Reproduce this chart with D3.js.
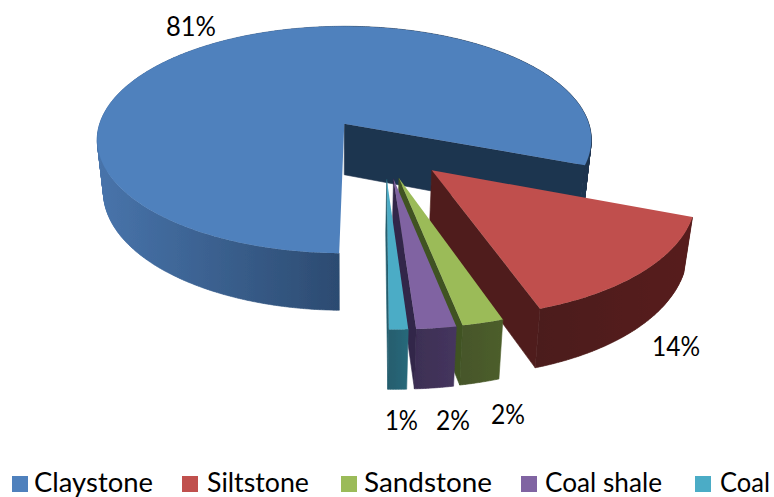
<!DOCTYPE html>
<html><head><meta charset="utf-8">
<script src="https://cdn.jsdelivr.net/npm/d3@7"></script>
<style>html,body{margin:0;padding:0;background:#fff}svg{display:block}text{font-family:Lato,"Open Sans",sans-serif;fill:#000}</style>
</head><body><div id="chart"></div>
<script>
const categories = ["Claystone","Siltstone","Sandstone","Coal shale","Coal"];
const shares = [80.5,14.2,2.2,2.1,1.0];
const topColors = ["#4F81BD","#C0504D","#9BBB59","#8064A2","#4BACC6"];
const cutColors = ["#1F344F","#4F1E1C","#3F5223","#33274A","#255E6E"];
const wallLight = ["#4874AB","#571F1D","#4D5E2A","#45355E","#28687A"];
const wallDark  = ["#2C4B71","#4C1D1B","#46562A","#3D2F54","#255E6E"];
const sliceNudge = [-0.012,0.007,-0.008,0.005,0.004];

const W=774,H=497;
const proj={cx:345,cy:122,rx:244,ry:110.7,k:0.1416,depth:51,depthSlope:6,shrink:0.975};
const explode=0.255, origin=[0.152,0.226];
const startClock=-179*Math.PI/180;

const svg=d3.select("#chart").append("svg").attr("width",W).attr("height",H);
const defs=svg.append("defs");
defs.append("filter").attr("id","soft").attr("x","-5%").attr("y","-5%").attr("width","110%").attr("height","110%")
  .append("feGaussianBlur").attr("stdDeviation",0.55);
const pie=d3.pie().sort(null).value(d=>d).startAngle(startClock).endAngle(startClock+2*Math.PI);
const slices=pie(shares);

function top3(u,v){const s=1/(1-proj.k*v);return [proj.cx+proj.rx*u*s,proj.cy+proj.ry*v*s];}
function bot3(u,v){const s=1/(1-proj.k*v);return [proj.cx+proj.rx*u*s*proj.shrink,proj.cy+proj.ry*v*s+proj.depth+proj.depthSlope*v];}
const dir=a=>[Math.sin(a),-Math.cos(a)];
const line=d3.line();
const chart=svg.append("g").attr("filter","url(#soft)");

slices.forEach((d,i)=>{
  const mid=(d.startAngle+d.endAngle)/2, m=dir(mid);
  const ax=origin[0]+explode*m[0]+sliceNudge[i], ay=origin[1]+explode*m[1];
  const steps=Math.max(6,Math.ceil((d.endAngle-d.startAngle)/0.01));
  const arc=d3.range(steps+1).map(t=>{const a=d.startAngle+(d.endAngle-d.startAngle)*t/steps,e=dir(a);return [ax+e[0],ay+e[1]];});
  const g=chart.append("g").attr("class","slice");
  const topRim=arc.map(p=>top3(p[0],p[1])), botRim=arc.map(p=>bot3(p[0],p[1]));
  const xs=topRim.map(p=>p[0]);
  const id="wall"+i;
  const grad=defs.append("linearGradient").attr("id",id).attr("gradientUnits","userSpaceOnUse")
    .attr("x1",i===0?98:d3.min(xs)).attr("x2",i===0?590:d3.max(xs)).attr("y1",0).attr("y2",0);
  if(i===0){
    grad.append("stop").attr("offset",0).attr("stop-color",wallLight[i]);
    grad.append("stop").attr("offset",0.49).attr("stop-color",wallDark[i]);
    grad.append("stop").attr("offset",0.5).attr("stop-color",cutColors[i]);
    grad.append("stop").attr("offset",1).attr("stop-color",cutColors[i]);
  }else{
    grad.append("stop").attr("offset",0).attr("stop-color",wallDark[i]);
    grad.append("stop").attr("offset",1).attr("stop-color",wallLight[i]);
  }
  // outer wall: union of quads so the silhouette joins both rims
  const quads=d3.range(steps).map(t=>line([topRim[t],topRim[t+1],botRim[t+1],botRim[t]])+"Z").join("");
  g.append("path").attr("d",quads).attr("fill",`url(#${id})`).attr("stroke",`url(#${id})`).attr("stroke-width",0.6);
  // cut wall at the clockwise end of the slice
  const last=arc[arc.length-1];
  const cut=[top3(ax,ay),top3(last[0],last[1]),bot3(last[0],last[1]),bot3(ax,ay)];
  g.append("path").attr("d",line(cut)+"Z").attr("fill",cutColors[i]).attr("stroke",cutColors[i]).attr("stroke-width",0.6);
  // top face
  g.append("path").attr("d",line([top3(ax,ay)].concat(topRim))+"Z").attr("fill",topColors[i]);
});

// percentage labels
const pctLabels=shares.map(v=>Math.round(v)+"%");
const labelPos=[[166,36,50],[652,356,48],[491,424,34],[436,430,34],[385,430,33]];
svg.append("g").selectAll("text").data(pctLabels).join("text")
  .attr("x",(d,i)=>labelPos[i][0]).attr("y",(d,i)=>labelPos[i][1])
  .attr("textLength",(d,i)=>labelPos[i][2]).attr("lengthAdjust","spacingAndGlyphs")
  .attr("font-size",26).text(d=>d);

// legend
const legendSwatchX=[12,182,341,521,695], legendTextX=[34,207,364,545,720], legendTextW=[119,102,128,117,50];
const lg=svg.append("g").selectAll("g").data(categories).join("g");
lg.append("rect").attr("x",(d,i)=>legendSwatchX[i]).attr("y",476).attr("width",16).attr("height",16).attr("fill",(d,i)=>topColors[i]);
lg.append("text").attr("x",(d,i)=>legendTextX[i]).attr("y",492).attr("font-size",27)
  .attr("textLength",(d,i)=>legendTextW[i]).attr("lengthAdjust","spacingAndGlyphs").text(d=>d);
</script></body></html>
